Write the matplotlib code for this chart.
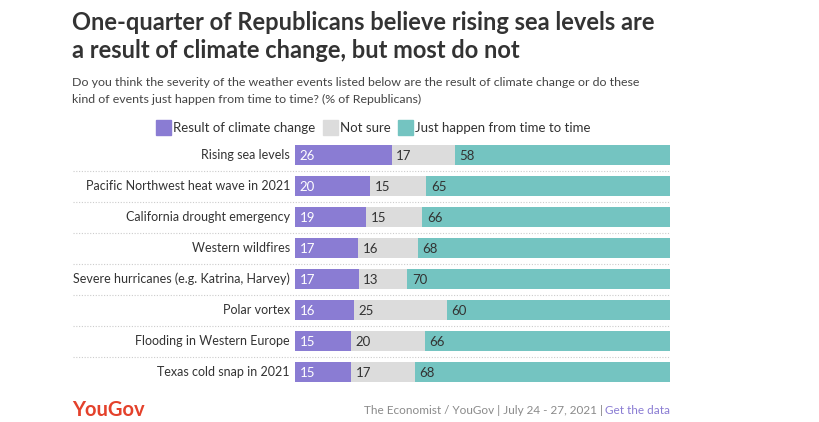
import matplotlib
matplotlib.use("Agg")
import matplotlib.pyplot as plt
from matplotlib.lines import Line2D
import numpy as np

# --- DATA ---
categories = [
    "Rising sea levels",
    "Pacific Northwest heat wave in 2021",
    "California drought emergency",
    "Western wildfires",
    "Severe hurricanes (e.g. Katrina, Harvey)",
    "Polar vortex",
    "Flooding in Western Europe",
    "Texas cold snap in 2021",
]
climate = [26, 20, 19, 17, 17, 16, 15, 15]
not_sure = [17, 15, 15, 16, 13, 25, 20, 17]
just_happen = [58, 65, 66, 68, 70, 60, 66, 68]
series_names = ["Result of climate change", "Not sure", "Just happen from time to time"]
colors = ["#8a7cd3", "#dcdcdc", "#74c4c1"]
label_colors = ["white", "#333333", "#333333"]

plt.rcParams['font.family'] = ['Lato', 'DejaVu Sans']

W, H = 820, 422
fig = plt.figure(figsize=(W / 100, H / 100), dpi=100)

def fx(px):
    return px / W

def fy(py):
    return 1 - py / H

# axes placement in pixels
x0, x1 = 295, 670
row_top, row_h = 139.5, 31
n = len(categories)
ax = fig.add_axes([fx(x0), fy(row_top + n * row_h), fx(x1 - x0), (n * row_h) / H])

data = np.array([climate, not_sure, just_happen], dtype=float)
totals = data.sum(axis=0)
shares = data / totals * 100
y = np.arange(n)
left = np.zeros(n)
for k in range(3):
    ax.barh(y, shares[k], left=left, height=20 / row_h, color=colors[k], linewidth=0)
    for i in range(n):
        ax.text(left[i] + 1.2, y[i] + 0.03, str(int(data[k][i])), va="center", ha="left",
                fontsize=9.5, color=label_colors[k])
    left += shares[k]

ax.set_xlim(0, 100)
ax.set_ylim(n - 0.5, -0.5)
ax.axis("off")

# category labels and dotted separators
for i, cat in enumerate(categories):
    cy = row_top + row_h * (i + 0.5)
    fig.text(fx(290), fy(cy), cat, ha="right", va="center", fontsize=9, color="#333333")
    if i < n - 1:
        sy = fy(row_top + row_h * (i + 1))
        fig.add_artist(Line2D([fx(73), fx(670)], [sy, sy], color="#cccccc",
                              linestyle=(0, (1, 1.5)), linewidth=0.8))

# title / subtitle
fig.text(fx(72), fy(30), "One-quarter of Republicans believe rising sea levels are",
         fontsize=17, fontweight="bold", color="#333333", va="baseline")
fig.text(fx(72), fy(58), "a result of climate change, but most do not",
         fontsize=17, fontweight="bold", color="#333333", va="baseline")
fig.text(fx(72), fy(86), "Do you think the severity of the weather events listed below are the result of climate change or do these",
         fontsize=8.9, color="#444444", va="baseline")
fig.text(fx(72), fy(103), "kind of events just happen from time to time? (% of Republicans)",
         fontsize=8.9, color="#444444", va="baseline")

# legend
leg_x = [156, 323, 398]
for k, name in enumerate(series_names):
    fig.add_artist(plt.Rectangle((fx(leg_x[k]), fy(135)), 15 / W, 15 / H,
                                 color=colors[k], transform=fig.transFigure))
    fig.text(fx(leg_x[k] + 17), fy(127.5), name, ha="left", va="center",
             fontsize=9.5, color="#333333")

# footer
fig.text(fx(72), fy(410), "YouGov", fontsize=14.5, fontweight="bold", color="#e4412b",
         va="center")
link = fig.text(fx(670), fy(410), "Get the data", ha="right", va="center", fontsize=8.5,
                color="#8a7cd3")
renderer = fig.canvas.get_renderer()
lx = link.get_window_extent(renderer).x0
fig.text(lx / W - 2 / W, fy(410), "The Economist / YouGov | July 24 - 27, 2021 |",
         ha="right", va="center", fontsize=8.5, color="#8a8a8a")

fig.savefig("out.png", dpi=100)
